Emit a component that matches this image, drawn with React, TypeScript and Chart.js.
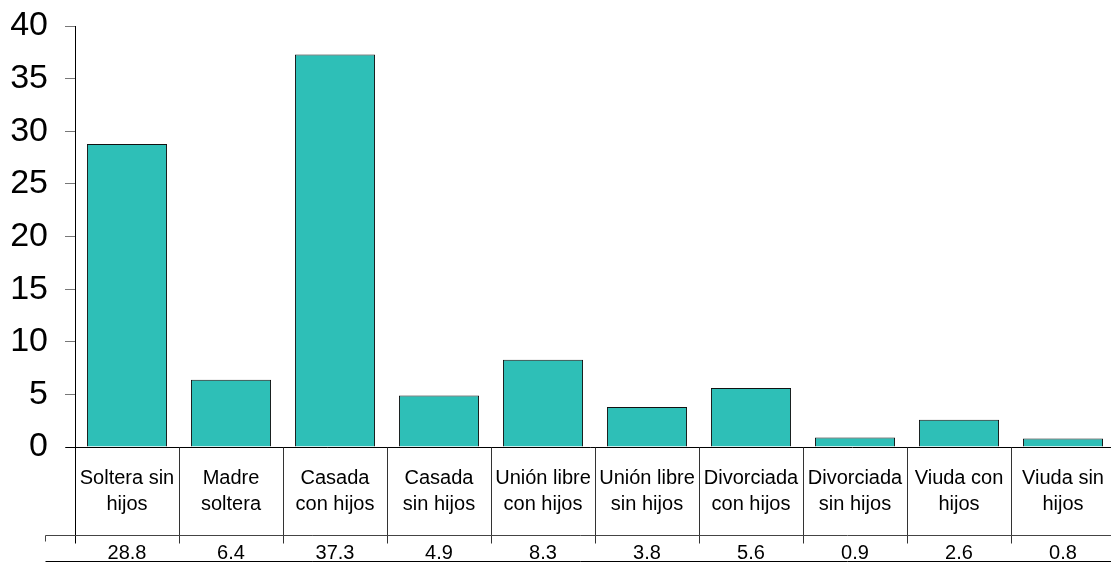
import React, { useEffect, useRef } from "react";
import { Chart, registerables } from "chart.js";

Chart.register(...registerables);

const categories: string[][] = [
  ["Soltera sin", "hijos"],
  ["Madre", "soltera"],
  ["Casada", "con hijos"],
  ["Casada", "sin hijos"],
  ["Unión libre", "con hijos"],
  ["Unión libre", "sin hijos"],
  ["Divorciada", "con hijos"],
  ["Divorciada", "sin hijos"],
  ["Viuda con", "hijos"],
  ["Viuda sin", "hijos"],
];

const values: number[] = [28.8, 6.4, 37.3, 4.9, 8.3, 3.8, 5.6, 0.9, 2.6, 0.8];

const yMin = 0;
const yMax = 40;
const yStep = 5;

const FONT = '"Liberation Sans", Arial, Helvetica, sans-serif';
const BAR_COLOR = "#2EBFB7";

export default function App() {
  const ref = useRef<HTMLCanvasElement>(null);

  useEffect(() => {
    if (!ref.current) return;

    const tablePlugin = {
      id: "dataTable",
      afterDraw(chart: any) {
        const ctx = chart.ctx as CanvasRenderingContext2D;
        const xs = chart.scales.x;
        const ys = chart.scales.y;
        const area = chart.chartArea;
        const y0 = Math.round(ys.getPixelForValue(0)) + 0.5;
        const left = Math.round(area.left) + 0.5;
        const right = chart.width;
        const n = categories.length;
        const colW = xs.getPixelForValue(1) - xs.getPixelForValue(0);
        const sepBottom = y0 + 96;
        const midLine = y0 + 88;
        const bottomLine = 561.5;
        const tableLeft = 45.5;

        ctx.save();
        ctx.strokeStyle = "#000";
        ctx.lineWidth = 1;
        ctx.beginPath();
        ctx.moveTo(left - 10, y0);
        ctx.lineTo(right, y0);
        ctx.stroke();

        ctx.beginPath();
        ctx.moveTo(left, y0);
        ctx.lineTo(left, sepBottom);
        ctx.stroke();

        ctx.strokeStyle = "#333";
        for (let i = 1; i < n; i++) {
          const x = Math.round(xs.getPixelForValue(i) - colW / 2) + 0.5;
          ctx.beginPath();
          ctx.moveTo(x, y0);
          ctx.lineTo(x, sepBottom);
          ctx.stroke();
        }

        ctx.strokeStyle = "#444";
        ctx.beginPath();
        ctx.moveTo(tableLeft, midLine);
        ctx.lineTo(right, midLine);
        ctx.moveTo(tableLeft, midLine);
        ctx.lineTo(tableLeft, midLine + 6);
        ctx.stroke();
        ctx.strokeStyle = "#000";
        ctx.beginPath();
        ctx.moveTo(tableLeft, bottomLine);
        ctx.lineTo(right, bottomLine);
        ctx.stroke();

        ctx.fillStyle = "#000";
        ctx.font = `20px ${FONT}`;
        ctx.textAlign = "center";
        ctx.textBaseline = "middle";
        for (let i = 0; i < n; i++) {
          const cx = xs.getPixelForValue(i);
          const lines = categories[i];
          lines.forEach((ln, k) => {
            ctx.fillText(ln, cx, y0 + 31 + k * 26);
          });
          ctx.fillText(values[i].toFixed(1), cx, y0 + 106);
        }
        ctx.restore();
      },
    };

    const chart = new Chart(ref.current, {
      type: "bar",
      data: {
        labels: categories.map((c) => c.join(" ")),
        datasets: [
          {
            data: values,
            backgroundColor: BAR_COLOR,
            borderColor: "#111",
            borderWidth: 1,
            barPercentage: 0.77,
            categoryPercentage: 1,
          },
        ],
      },
      options: {
        responsive: false,
        animation: false,
        devicePixelRatio: 1,
        layout: { padding: { left: 0, top: 26, right: 0, bottom: 115 } },
        plugins: { legend: { display: false }, tooltip: { enabled: false } },
        scales: {
          x: {
            display: false,
          },
          y: {
            min: yMin,
            max: yMax,
            ticks: {
              stepSize: yStep,
              color: "#000",
              font: { family: FONT, size: 34, lineHeight: 0.5 },
              padding: 17,
            },
            grid: {
              drawOnChartArea: false,
              drawTicks: true,
              tickLength: 10,
              tickColor: "#777",
            },
            border: { display: true, color: "#000", width: 1 },
            afterFit(scale: any) {
              scale.width = 75;
              scale.paddingTop = 0;
              scale.paddingBottom = 0;
            },
          },
        },
      },
      plugins: [tablePlugin],
    });

    return () => chart.destroy();
  }, []);

  return (
    <div style={{ position: "fixed", left: 0, top: 0, width: 1111, height: 562, overflow: "hidden", background: "#fff" }}>
      <canvas ref={ref} width={1115} height={562} style={{ display: "block" }} />
    </div>
  );
}
